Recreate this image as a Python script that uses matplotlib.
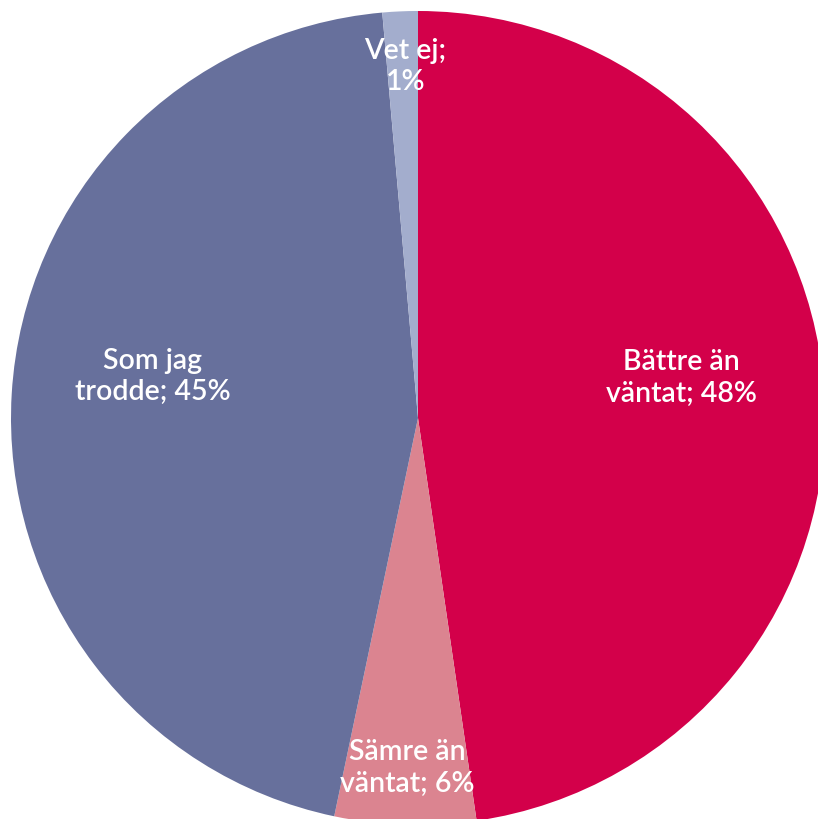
import matplotlib
matplotlib.use("Agg")
import matplotlib.pyplot as plt
import numpy as np

categories = ["Bättre än väntat", "Sämre än väntat", "Som jag trodde", "Vet ej"]
values = [47.7, 5.6, 45.3, 1.4]
labels = ["Bättre än\nväntat; 48%", "Sämre än\nväntat; 6%", "Som jag\ntrodde; 45%", "Vet ej;\n1%"]
colors = ["#D3004A", "#DB8490", "#67709C", "#A3ADCD"]

# label placement (radius, extra angle in degrees) relative to wedge middle
label_pos = [(0.655, 4.5), (0.86, 0.0), (0.66, -5.5), (0.865, -0.5)]

fig = plt.figure(figsize=(8.18, 8.19), dpi=100)
R = 407
cx, cy = 418, 418
W, H = 818, 819
ax = fig.add_axes([(cx - R) / W, (H - cy - R) / H, 2 * R / W, 2 * R / H])
wedges, _ = ax.pie(values, colors=colors, startangle=90, counterclock=False,
                   wedgeprops=dict(linewidth=0), radius=1)
ax.set_xlim(-1, 1)
ax.set_ylim(-1, 1)
ax.set_aspect("equal")
ax.axis("off")

for w, lab, (r, dth) in zip(wedges, labels, label_pos):
    th = np.deg2rad((w.theta1 + w.theta2) / 2 + dth)
    ax.text(r * np.cos(th), r * np.sin(th), lab, ha="center", va="center",
            multialignment="center", color="white", fontsize=20.5,
            fontweight="semibold",
            family=["Lato", "DejaVu Sans"], linespacing=1.25)

fig.savefig("out.png", dpi=100)
